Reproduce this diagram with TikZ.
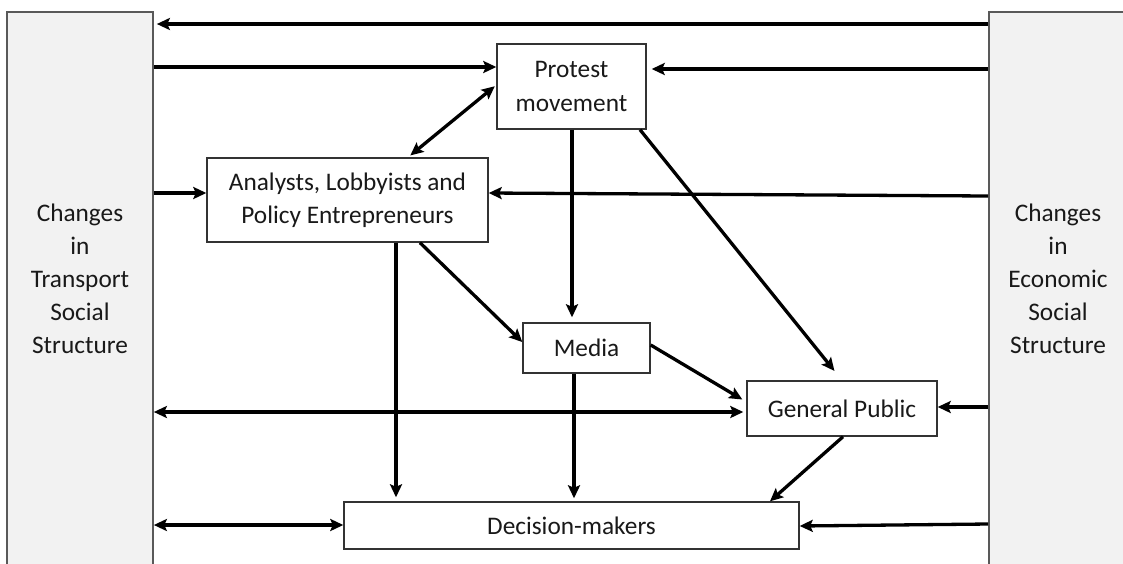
\documentclass[tikz,border=0pt]{standalone}
\usepackage{fontspec}
\setmainfont{Carlito}
\usetikzlibrary{arrows.meta,calc}
\begin{document}
\begin{tikzpicture}[x=1pt,y=-1pt,
  box/.style={draw=black!80, line width=1.4pt, fill=white, inner sep=0pt, align=center,
    text=black!90, font=\fontsize{25.3}{33.5}\selectfont},
  panel/.style={draw=black!65, line width=1.7pt, fill=black!5, inner sep=0pt},
  ptext/.style={align=center, inner sep=0pt, text=black!90, font=\fontsize{25.3}{33}\selectfont},
  tip/.tip={Stealth[length=13pt,width=12pt,inset=2.5pt]},
  arr/.style={line width=3.3pt, -tip},
  darr/.style={line width=3.3pt, tip-tip},
]
\useasboundingbox (0,0) rectangle (1123,563);
% side panels
\node[panel, minimum width=146pt, minimum height=570pt] (lp) at (80,297) {};
\node[panel, minimum width=140pt, minimum height=570pt] (rp) at (1059,297) {};
\node[ptext] (lt) at (80,279) {Changes\\in\\Transport\\Social\\Structure};
\node[ptext] (rt) at (1058,279) {Changes\\in\\Economic\\Social\\Structure};
% boxes
\node[box, minimum width=149pt, minimum height=85pt] (pm) at (571.5,86.5) {Protest\\movement};
\node[box, minimum width=281pt, minimum height=84pt] (an) at (347.5,200) {Analysts, Lobbyists and\\Policy Entrepreneurs};
\node[box, minimum width=127pt, minimum height=50pt] (me) at (586.5,348) {Media};
\node[box, minimum width=190pt, minimum height=55pt] (gp) at (842,408.5) {General Public};
\node[box, minimum width=455pt, minimum height=47pt] (dm) at (571.5,525.5) {Decision-makers};
% connectors
\draw[arr, shorten >=3pt] (rp.west |- 0,24) -- (lp.east |- 0,24);
\draw[arr] (lp.east |- 0,67) -- (pm.west |- 0,67);
\draw[arr, shorten >=5pt] (rp.west |- 0,69) -- (pm.east |- 0,69);
\draw[darr, shorten <=3pt, shorten >=2pt] (an.north -| 408,0) -- (pm.west |- 0,85);
\draw[arr] (lp.east |- 0,193) -- (an.west |- 0,193);
\draw[arr] (rp.west |- 0,196) -- (an.east |- 0,193);
\draw[arr, shorten >=5pt] (pm.south -| 572,0) -- (me.north -| 572,0);
\draw[arr, shorten >=12pt] (pm.south -| 640,0) -- (gp.north);
\draw[arr] (an.south -| 420,0) -- ([yshift=6pt]me.west);
\draw[arr, shorten >=4pt] (an.south -| 396,0) -- (dm.north -| 396,0);
\draw[arr, shorten >=3pt] (me.south -| 574,0) -- (dm.north -| 574,0);
\draw[arr] (me.east |- 0,345) -- ([xshift=-4pt,yshift=9pt]gp.west);
\draw[darr, shorten >=3pt] (lp.east |- 0,412) -- (gp.west |- 0,412);
\draw[arr] (rp.west |- 0,407) -- (gp.east |- 0,407);
\draw[arr] (gp.south -| 843,0) -- (dm.north -| 770,0);
\draw[darr] (lp.east |- 0,525) -- (dm.west |- 0,525);
\draw[arr] (rp.west |- 0,524) -- (dm.east |- 0,526);
\end{tikzpicture}
\end{document}
